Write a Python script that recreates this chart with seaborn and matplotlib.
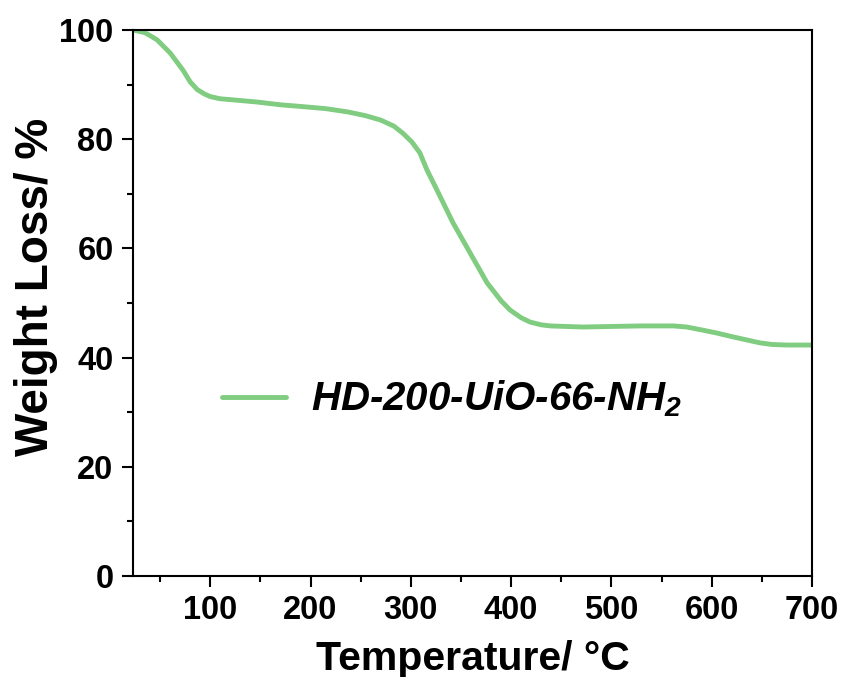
import matplotlib
matplotlib.use("Agg")
import matplotlib.pyplot as plt
from matplotlib.ticker import MultipleLocator
import seaborn as sns
import pandas as pd

# TGA curve of HD-200-UiO-66-NH2
temperature = [23, 35, 47, 60, 73, 80, 87, 94, 100, 110, 123, 147, 170, 190, 215, 237,
               255, 270, 283, 292, 301, 309, 316, 326, 342, 359, 376, 390, 399, 410,
               419, 430, 439, 455, 472, 500, 529, 562, 575, 589, 605, 621, 648, 660,
               675, 700]
weight = [100.0, 99.5, 98.2, 95.8, 92.6, 90.5, 89.1, 88.3, 87.8, 87.4, 87.2, 86.8,
          86.3, 86.0, 85.6, 85.0, 84.3, 83.5, 82.4, 81.1, 79.5, 77.5, 74.4, 70.7,
          64.7, 59.2, 53.7, 50.4, 48.7, 47.3, 46.5, 46.0, 45.8, 45.7, 45.6, 45.7,
          45.8, 45.8, 45.6, 45.1, 44.5, 43.8, 42.7, 42.4, 42.3, 42.3]
series_name = "HD-200-UiO-66-NH$_2$"

df = pd.DataFrame({"Temperature": temperature, "Weight": weight, "Sample": series_name})

sns.set_theme(style="ticks")
plt.rcParams["font.family"] = ["Liberation Sans", "DejaVu Sans"]
plt.rcParams["text.color"] = "black"
plt.rcParams["axes.labelcolor"] = "black"
plt.rcParams["xtick.color"] = "black"
plt.rcParams["ytick.color"] = "black"
plt.rcParams["mathtext.fontset"] = "custom"
plt.rcParams["mathtext.rm"] = "Liberation Sans:bold:italic"
plt.rcParams["mathtext.it"] = "Liberation Sans:bold:italic"
plt.rcParams["mathtext.bf"] = "Liberation Sans:bold:italic"

fig = plt.figure(figsize=(8.45, 6.77), dpi=100)
ax = fig.add_axes([0.1574, 0.1492, 0.8036, 0.8065])

sns.lineplot(data=df, x="Temperature", y="Weight", hue="Sample",
             palette=["#80CC80"], linewidth=3.5, ax=ax, sort=False)

ax.set_xlim(23, 700)
ax.set_ylim(0, 100)
ax.xaxis.set_major_locator(MultipleLocator(100))
ax.xaxis.set_minor_locator(MultipleLocator(50))
ax.yaxis.set_major_locator(MultipleLocator(20))
ax.yaxis.set_minor_locator(MultipleLocator(10))

for sp in ax.spines.values():
    sp.set_linewidth(1.5)
    sp.set_color("black")
    sp.set_visible(True)

ax.tick_params(axis="both", which="major", direction="out", length=8, width=1.5,
               labelsize=23.5, pad=6, colors="black", top=False, right=False)
ax.tick_params(axis="both", which="minor", direction="out", length=4, width=1.5,
               top=False, right=False)
for lbl in ax.get_xticklabels() + ax.get_yticklabels():
    lbl.set_fontweight("bold")

ax.set_xlabel("Temperature/ \u00b0C", fontsize=29.5, fontweight="bold", labelpad=10)
ax.set_ylabel("Weight Loss/ %", fontsize=33, fontweight="bold")
ax.yaxis.set_label_coords(-0.110, 0.529)

leg = ax.legend(loc="center left", bbox_to_anchor=(0.131, 0.324), frameon=False,
                borderaxespad=0, borderpad=0, handlelength=1.6, handletextpad=0.6,
                prop={"size": 29, "weight": "bold", "style": "italic"})
for h in leg.get_lines():
    h.set_linewidth(3.5)

fig.savefig("out.png", dpi=100)
